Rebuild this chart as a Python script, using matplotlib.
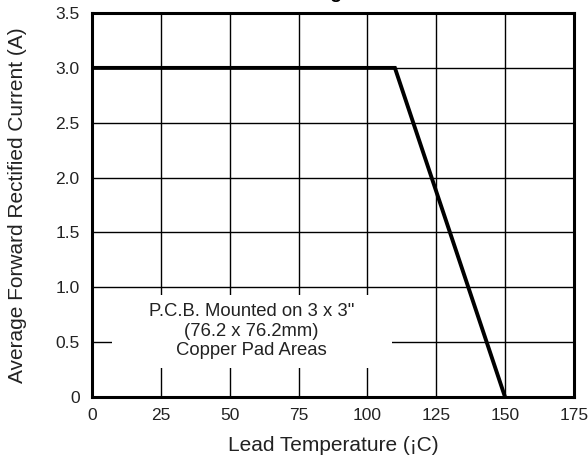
import matplotlib
matplotlib.use("Agg")
import matplotlib.pyplot as plt
from matplotlib.patches import Rectangle

# Derating curve: lead temperature (C) vs average forward current (A)
temp = [0, 110, 150]
current = [3.0, 3.0, 0.0]

x_ticks = [0, 25, 50, 75, 100, 125, 150, 175]
y_ticks = [0, 0.5, 1.0, 1.5, 2.0, 2.5, 3.0, 3.5]
y_tick_labels = ["0", "0.5", "1.0", "1.5", "2.0", "2.5", "3.0", "3.5"]

title = "Forward Current Derating Curve"
note = 'P.C.B. Mounted on 3 x 3"\n(76.2 x 76.2mm)\nCopper Pad Areas'

plt.rcParams["font.family"] = ["Liberation Sans", "DejaVu Sans"]

fig = plt.figure(figsize=(5.88, 4.66), dpi=100)
ax = fig.add_axes([0.1565, 0.148, 0.8195, 0.824])

ax.plot(temp, current, color="black", linewidth=2.8, zorder=4,
        solid_joinstyle="miter")

ax.set_xlim(0, 175)
ax.set_ylim(0, 3.5)
ax.set_xticks(x_ticks)
ax.set_yticks(y_ticks)
ax.set_yticklabels(y_tick_labels)
ax.tick_params(length=0, labelsize=12.5, colors="#222222")
ax.tick_params(axis="x", pad=8)
ax.tick_params(axis="y", pad=9)
ax.grid(True, color="black", linewidth=1.0)
ax.set_axisbelow(True)
for s in ax.spines.values():
    s.set_linewidth(2.2)
    s.set_zorder(5)

ax.set_xlabel("Lead Temperature (¡C)", fontsize=15, labelpad=9, color="#222222")
ax.set_ylabel("Average Forward Rectified Current (A)", fontsize=15,
              labelpad=20, color="#222222")

# white area behind the note hides the grid lines
ax.add_patch(Rectangle((7.3, 0.265), 101.6, 0.665, facecolor="white",
                       edgecolor="none", zorder=2))
ax.text(58, 0.6, note, ha="center", va="center", fontsize=13.3,
        linespacing=1.2, color="#222222", zorder=3)

# title sits mostly above the canvas; only the descender shows
fig.text(403 / 588, 1.004, title, ha="right", va="baseline",
         fontsize=14, fontweight="bold")

fig.savefig("out.png", dpi=100)
